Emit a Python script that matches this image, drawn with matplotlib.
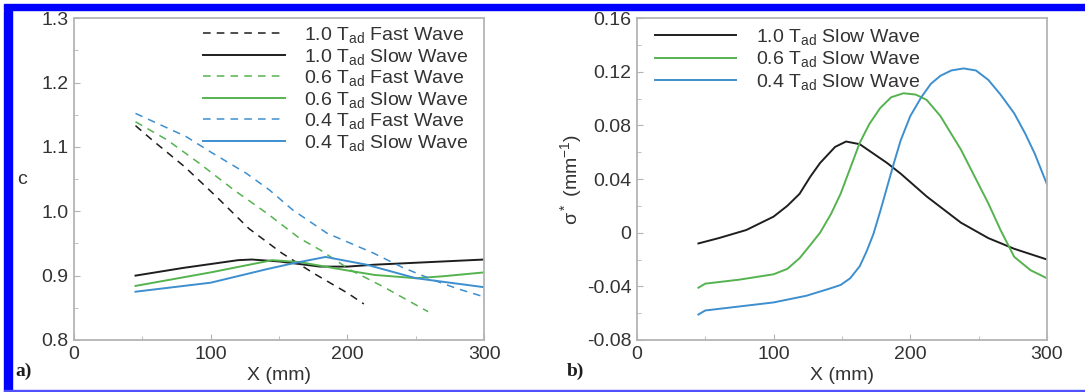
import numpy as np
import matplotlib
matplotlib.use('Agg')
import matplotlib.pyplot as plt
from matplotlib.patches import Rectangle
from matplotlib.ticker import MultipleLocator

plt.rcParams['font.family'] = ['Liberation Sans', 'DejaVu Sans']
plt.rcParams['mathtext.default'] = 'regular'

# panel a) : c vs X
fast10_x = [45, 57, 81, 104, 128, 152, 175, 200, 212]
fast10_y = [1.133, 1.111, 1.069, 1.023, 0.973, 0.935, 0.904, 0.873, 0.856]
slow10_x = [45, 80, 100, 120, 130, 150, 165, 180, 200, 220, 250, 280, 300]
slow10_y = [0.900, 0.912, 0.918, 0.924, 0.925, 0.922, 0.918, 0.914, 0.914, 0.917, 0.920, 0.923, 0.925]
fast06_x = [45, 68, 92, 117, 141, 165, 180, 202, 226, 259]
fast06_y = [1.139, 1.111, 1.074, 1.033, 0.997, 0.958, 0.940, 0.909, 0.883, 0.844]
slow06_x = [45, 100, 145, 165, 200, 220, 250, 270, 300]
slow06_y = [0.884, 0.905, 0.924, 0.921, 0.908, 0.901, 0.896, 0.899, 0.905]
fast04_x = [45, 82, 100, 126, 143, 160, 185, 219, 240, 263, 280, 300]
fast04_y = [1.152, 1.116, 1.092, 1.059, 1.033, 1.002, 0.966, 0.935, 0.913, 0.893, 0.880, 0.867]
slow04_x = [45, 100, 141, 160, 184, 214, 250, 300]
slow04_y = [0.875, 0.889, 0.910, 0.919, 0.929, 0.917, 0.896, 0.882]

# panel b) : sigma* vs X
sig10_x = [45, 60, 80, 100, 110, 119, 127, 134, 145, 153, 163, 173, 183, 193, 212, 237, 257, 276, 300]
sig10_y = [-0.008, -0.004, 0.002, 0.012, 0.020, 0.029, 0.042, 0.052, 0.064, 0.068, 0.066, 0.059, 0.052,
           0.044, 0.027, 0.0075, -0.004, -0.012, -0.020]
sig06_x = [45, 50, 75, 100, 110, 119, 127, 134, 142, 149, 156, 163, 170, 178, 186, 195, 204, 212,
           222, 237, 247, 257, 266, 276, 288, 300]
sig06_y = [-0.041, -0.038, -0.035, -0.031, -0.027, -0.019, -0.009, 0.0, 0.014, 0.029, 0.048, 0.067,
           0.081, 0.093, 0.101, 0.104, 0.103, 0.099, 0.087, 0.062, 0.042, 0.022, 0.002, -0.018, -0.028, -0.034]
sig04_x = [45, 50, 75, 100, 124, 140, 149, 156, 163, 168, 173, 178, 183, 188, 193, 200, 208, 215,
           222, 230, 239, 248, 257, 266, 276, 284, 291, 300]
sig04_y = [-0.061, -0.058, -0.055, -0.052, -0.047, -0.042, -0.039, -0.034, -0.025, -0.014, -0.001,
           0.016, 0.034, 0.052, 0.069, 0.087, 0.101, 0.111, 0.117, 0.121, 0.1225, 0.121, 0.114, 0.103,
           0.089, 0.074, 0.059, 0.036]

black = '#1e1e1e'
green = '#55b34f'
blue = '#3d8fcf'
txt = '#333333'
spine = '#b4b4b4'
fs = 14

fig = plt.figure(figsize=(10.85, 3.92), dpi=100)
ax1 = fig.add_axes([0.0682, 0.1327, 0.378, 0.821])
ax2 = fig.add_axes([0.587, 0.1327, 0.378, 0.821])

dash = (5, 4)
ax1.plot(fast10_x, fast10_y, color=black, lw=1.1, dashes=dash, label='1.0 T$_{ad}$ Fast Wave')
ax1.plot(slow10_x, slow10_y, color=black, lw=1.4, label='1.0 T$_{ad}$ Slow Wave')
ax1.plot(fast06_x, fast06_y, color=green, lw=1.1, dashes=dash, label='0.6 T$_{ad}$ Fast Wave')
ax1.plot(slow06_x, slow06_y, color=green, lw=1.4, label='0.6 T$_{ad}$ Slow Wave')
ax1.plot(fast04_x, fast04_y, color=blue, lw=1.1, dashes=dash, label='0.4 T$_{ad}$ Fast Wave')
ax1.plot(slow04_x, slow04_y, color=blue, lw=1.4, label='0.4 T$_{ad}$ Slow Wave')

ax2.plot(sig10_x, sig10_y, color=black, lw=1.4, label='1.0 T$_{ad}$ Slow Wave')
ax2.plot(sig06_x, sig06_y, color=green, lw=1.4, label='0.6 T$_{ad}$ Slow Wave')
ax2.plot(sig04_x, sig04_y, color=blue, lw=1.4, label='0.4 T$_{ad}$ Slow Wave')

ax1.set_xlim(0, 300)
ax1.set_ylim(0.8, 1.3)
ax1.xaxis.set_major_locator(MultipleLocator(100))
ax1.xaxis.set_minor_locator(MultipleLocator(50))
ax1.yaxis.set_major_locator(MultipleLocator(0.1))
ax1.yaxis.set_minor_locator(MultipleLocator(0.05))
ax1.yaxis.set_major_formatter(matplotlib.ticker.FormatStrFormatter('%.1f'))

ax2.set_xlim(0, 300)
ax2.set_ylim(-0.08, 0.16)
ax2.xaxis.set_major_locator(MultipleLocator(100))
ax2.xaxis.set_minor_locator(MultipleLocator(50))
ax2.yaxis.set_minor_locator(MultipleLocator(0.02))
ax2.set_yticks([-0.08, -0.04, 0, 0.04, 0.08, 0.12, 0.16])
ax2.set_yticklabels(['-0.08', '-0.04', '0', '0.04', '0.08', '0.12', '0.16'])

for ax in (ax1, ax2):
    for s in ax.spines.values():
        s.set_color(spine)
        s.set_linewidth(1.3)
    ax.tick_params(which='both', direction='in', colors=spine, labelcolor=txt, labelsize=fs)
    ax.tick_params(which='major', length=4, pad=4)
    ax.tick_params(which='minor', length=3)
    ax.set_xlabel('X (mm)', fontsize=fs, color=txt, labelpad=3)

ax1.set_ylabel('c', fontsize=fs, color=txt, rotation=0, labelpad=14, va='center')
ax2.set_ylabel(r'$\sigma^*$ (mm$^{-1}$)', fontsize=fs, color=txt, labelpad=2)

leg1 = ax1.legend(loc='upper right', bbox_to_anchor=(0.99, 1.015), frameon=False, fontsize=fs,
                  handlelength=4.2, handletextpad=1.0, labelspacing=0.08, borderaxespad=0.2)
leg2 = ax2.legend(loc='upper left', bbox_to_anchor=(0.015, 1.01), frameon=False, fontsize=fs,
                  handlelength=4.2, handletextpad=1.0, labelspacing=0.14, borderaxespad=0.2)
for leg in (leg1, leg2):
    for t in leg.get_texts():
        t.set_color(txt)

fig.text(0.014, 0.04, 'a)', fontsize=fs, fontweight='bold', family='Liberation Serif', color=black)
fig.text(0.522, 0.04, 'b)', fontsize=fs, fontweight='bold', family='Liberation Serif', color=black)

# blue frame around the figure
fig.patches.append(Rectangle((0.0037, 1 - 10 / 392), 0.9963, 6 / 392, transform=fig.transFigure,
                             color='#0000ff', zorder=10))
fig.patches.append(Rectangle((0.0037, 0.003), 8 / 1085, 0.97, transform=fig.transFigure,
                             color='#0000ff', zorder=10))
fig.patches.append(Rectangle((0.0037, 0.0), 0.9963, 2 / 392, transform=fig.transFigure,
                             color='#5050ff', zorder=10))

fig.savefig('out.png', dpi=100)
